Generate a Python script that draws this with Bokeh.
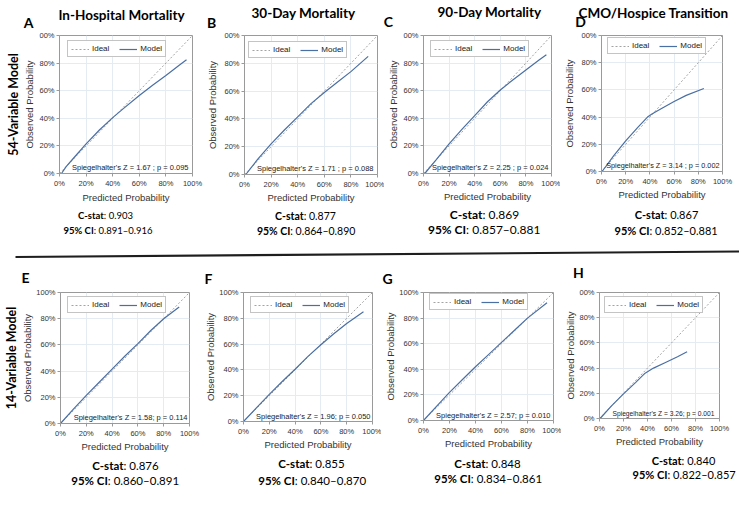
from bokeh.plotting import figure
from bokeh.layouts import column, row
from bokeh.models import (Label, Legend, LegendItem, FixedTicker, Range1d,
                          NumeralTickFormatter, Title)
from bokeh.embed import file_html
from bokeh.resources import INLINE

# ---------------- data ----------------
panel_letters = ["A", "B", "C", "D", "E", "F", "G", "H"]
outcome_titles = ["In-Hospital Mortality", "30-Day Mortality", "90-Day Mortality", "CMO/Hospice Transition"]
row_labels = ["54-Variable Model", "14-Variable Model"]
c_stats = ["0.903", "0.877", "0.869", "0.867", "0.876", "0.855", "0.848", "0.840"]
ci_ranges = ["0.891\u20130.916", "0.864\u20130.890", "0.857\u20130.881", "0.852\u20130.881",
             "0.860\u20130.891", "0.840\u20130.870", "0.834\u20130.861", "0.822\u20130.857"]
spiegel_texts = ["Spiegelhalter's Z = 1.67 ; p = 0.095", "Spiegelhalter's Z = 1.71 ; p = 0.088",
                 "Spiegelhalter's Z = 2.25 ; p = 0.024", "Spiegelhalter's Z = 3.14 ; p = 0.002",
                 "Spiegelhalter's Z = 1.58; p = 0.114", "Spiegelhalter's Z = 1.96; p = 0.050",
                 "Spiegelhalter's Z = 2.57; p = 0.010", "Spiegelhalter's Z = 3.26; p = 0.001"]
legend_labels = ["Ideal", "Model"]
tick_values = [0, 0.2, 0.4, 0.6, 0.8, 1]
clipped_top_label = "00%"
clipped_top = [True, True, True, True, False, False, False, True]
x_axis_label = "Predicted Probability"
y_axis_label = "Observed Probability"

ideal_x = [0, 1]
ideal_y = [0, 1]

model_x_A = [0.015, 0.05, 0.1, 0.2, 0.3, 0.4, 0.48, 0.6, 0.7, 0.8, 0.9, 0.955]
model_y_A = [0.0, 0.05, 0.105, 0.215, 0.315, 0.405, 0.47, 0.565, 0.64, 0.71, 0.785, 0.825]
model_x_B = [0.01, 0.1, 0.2, 0.3, 0.4, 0.5, 0.6, 0.7, 0.8, 0.93]
model_y_B = [0.0, 0.11, 0.22, 0.32, 0.415, 0.51, 0.59, 0.665, 0.74, 0.85]
model_x_C = [0.01, 0.1, 0.2, 0.3, 0.4, 0.5, 0.6, 0.7, 0.8, 0.9, 0.96]
model_y_C = [0.0, 0.1, 0.215, 0.32, 0.42, 0.52, 0.605, 0.68, 0.75, 0.82, 0.86]
model_x_D = [0.005, 0.1, 0.2, 0.3, 0.38, 0.42, 0.5, 0.6, 0.7, 0.846]
model_y_D = [0.0, 0.115, 0.225, 0.325, 0.4, 0.425, 0.465, 0.515, 0.56, 0.61]
model_x_E = [0.0, 0.1, 0.2, 0.3, 0.4, 0.5, 0.6, 0.7, 0.8, 0.92]
model_y_E = [0.0, 0.11, 0.215, 0.315, 0.415, 0.515, 0.61, 0.71, 0.8, 0.89]
model_x_F = [0.0, 0.1, 0.2, 0.3, 0.4, 0.5, 0.6, 0.7, 0.8, 0.93]
model_y_F = [0.0, 0.105, 0.21, 0.31, 0.405, 0.505, 0.595, 0.68, 0.76, 0.85]
model_x_G = [0.0, 0.1, 0.2, 0.3, 0.4, 0.5, 0.6, 0.7, 0.8, 0.95]
model_y_G = [0.0, 0.11, 0.22, 0.32, 0.42, 0.515, 0.61, 0.705, 0.8, 0.92]
model_x_H = [0.005, 0.1, 0.2, 0.3, 0.38, 0.45, 0.55, 0.65, 0.73]
model_y_H = [0.0, 0.1, 0.195, 0.285, 0.36, 0.4, 0.445, 0.49, 0.53]

curves = {"A": (model_x_A, model_y_A), "B": (model_x_B, model_y_B),
          "C": (model_x_C, model_y_C), "D": (model_x_D, model_y_D),
          "E": (model_x_E, model_y_E), "F": (model_x_F, model_y_F),
          "G": (model_x_G, model_y_G), "H": (model_x_H, model_y_H)}

# ---------------- layout (page pixel coordinates, origin top-left) ----------------
PAGE_W = 739
FIG_X = [[0, 203, 384, 560, 739], [0, 198, 379, 559, 739]]
HEADER = (0, 30)
ROW_Y = [(30, 206), (286, 453)]
MIDDLE = (206, 286)
FOOTER = (453, 507)
FRAMES = {"A": (59, 35, 192, 173), "B": (244, 34, 377, 173), "C": (423, 33, 551, 171),
          "D": (601, 33, 722, 169), "E": (58, 289, 187, 420), "F": (241, 292, 370, 421),
          "G": (421, 292, 551, 420), "H": (597, 292, 717, 418)}
TITLE_POS = {"A": (121, 14), "B": (303, 12.5), "C": (489, 11.5), "D": (653, 12)}
LETTER_POS = {"A": (28, 21.5), "B": (211, 21.5), "C": (388, 21), "D": (580, 21),
              "E": (25, 277), "F": (208, 277.5), "G": (387, 277.5), "H": (578, 272)}
ROWLAB_Y = [124, 370]
ROWLAB_FS = 12.5
YLAB_X = {"A": 28, "B": 210, "C": 390, "D": 565, "E": 26, "F": 208, "G": 387, "H": 565}
XLAB_Y = {"A": 198, "B": 197, "C": 194, "D": 190, "E": 443, "F": 445, "G": 443, "H": 437}
CSTAT_POS = {"A": (105, 215), "B": (305, 215), "C": (484, 213.5), "D": (666, 214),
             "E": (125, 465), "F": (311, 463), "G": (487, 463), "H": (683, 460)}
CI_POS = {"A": (107, 230), "B": (305, 230), "C": (483, 229), "D": (665, 230),
          "E": (124, 480), "F": (311, 480), "G": (487, 478), "H": (683, 474)}
CS_FS = {"A": 9.5, "B": 10.5, "C": 12, "D": 11, "E": 11.5, "F": 11.5, "G": 11.5, "H": 11}
SPIEGEL_POS = {"A": (188, 167), "B": (373, 167), "C": (548, 165), "D": (719, 163),
               "E": (185, 414), "F": (368, 416), "G": (548, 415), "H": (712, 413)}
SPIEGEL_FS = {"A": 7.5, "B": 7.5, "C": 7.5, "D": 7.3, "E": 7.5, "F": 7.5, "G": 7.5, "H": 6.7}
LEGEND_BOX = {"A": (67, 57), "B": (248, 57), "C": (430, 55), "D": (607, 52),
              "E": (65, 310), "F": (248, 313), "G": (427, 310), "H": (602, 313)}
SEPARATOR = (15, 256.5, 739, 251)

SANS = "Liberation Sans"
CAL = "Lato"
MODEL_COLOR = "#4a6fa3"
IDEAL_COLOR = "#a3a3a3"
TICK_FS = 7.5
AXLAB_FS = 9.5


def strip(x0, x1, y0, y1):
    w, h = x1 - x0, y1 - y0
    s = figure(width=w, height=h, output_backend="svg", toolbar_location=None,
               x_range=Range1d(0, w), y_range=Range1d(0, h),
               x_axis_type=None, y_axis_type=None, min_border=0)
    s.outline_line_color = None
    s.background_fill_color = "white"
    s.border_fill_color = "white"
    return s


def put(p, ox, oy_bottom, X, Y, text, font, size, bold=False, align="center",
        color="black", baseline="middle"):
    p.add_layout(Label(x=X - ox, y=oy_bottom - Y, x_units="screen", y_units="screen",
                       text=text, text_font=font, text_font_size=f"{size}px",
                       text_font_style="bold" if bold else "normal",
                       text_align=align, text_baseline=baseline, text_color=color))


def put_mixed(p, ox, oyb, X, Y, bold_part, rest, fs, bold_em, rest_em):
    split = X - (bold_em + rest_em) * fs / 2 + bold_em * fs
    put(p, ox, oyb, split, Y, bold_part, CAL, fs, bold=True, align="right")
    put(p, ox, oyb, split, Y, rest, CAL, fs, align="left")


def make_panel(i, k, col, r):
    fx0, fx1 = FIG_X[r][col], FIG_X[r][col + 1]
    fy0, fy1 = ROW_Y[r]
    fl, ft, fr, fb = FRAMES[k]
    p = figure(frame_width=fr - fl, frame_height=fb - ft, output_backend="svg",
               toolbar_location=None, x_range=Range1d(0, 1), y_range=Range1d(0, 1),
               min_border_left=fl - fx0, min_border_right=fx1 - fr,
               min_border_top=ft - fy0, min_border_bottom=fy1 - fb)
    p.outline_line_color = "#9a9a9a"
    p.background_fill_color = "white"
    for ax in (p.xaxis, p.yaxis):
        ax.ticker = FixedTicker(ticks=tick_values)
        ax.formatter = NumeralTickFormatter(format="0%")
        ax.major_label_text_font = SANS
        ax.major_label_text_font_size = f"{TICK_FS}px"
        ax.major_label_text_color = "#333333"
        ax.axis_line_color = "#9a9a9a"
        ax.major_tick_line_color = "#9a9a9a"
        ax.major_tick_in = 0
        ax.major_tick_out = 3
        ax.minor_tick_line_color = None
        ax.major_label_standoff = 2
        ax.axis_label_text_font = SANS
        ax.axis_label_text_font_size = f"{AXLAB_FS}px"
        ax.axis_label_text_font_style = "normal"
        ax.axis_label_text_color = "#333333"
    if clipped_top[i]:
        p.yaxis.major_label_overrides = {1: clipped_top_label}
    p.xaxis.axis_label = x_axis_label
    p.yaxis.axis_label = y_axis_label
    p.xaxis.axis_label_standoff = int(max(0, XLAB_Y[k] - fb - 24))
    base_y = 30 if clipped_top[i] else 34
    need_y = 38 if clipped_top[i] else 42
    s_y = max(0, fl - YLAB_X[k] - base_y)
    if col > 0:
        s_y = min(s_y, max(0, (fl - fx0) - need_y))
    p.yaxis.axis_label_standoff = int(s_y)
    p.xgrid.grid_line_color = "#e4ebf2"
    p.ygrid.grid_line_color = "#e4ebf2"

    if col == 0:
        fc = (ft + fb) / 2
        p.add_layout(Title(text=row_labels[r], align="center", offset=fc - ROWLAB_Y[r],
                           text_font=CAL, text_font_size=f"{ROWLAB_FS}px",
                           text_font_style="bold", text_color="black", standoff=2), "left")

    r_ideal = p.line(ideal_x, ideal_y, line_color=IDEAL_COLOR, line_dash="2 2", line_width=1)
    mx, my = curves[k]
    r_model = p.line(mx, my, line_color=MODEL_COLOR, line_width=1.2)

    lx, lb = LEGEND_BOX[k]
    lg = Legend(items=[LegendItem(label=legend_labels[0], renderers=[r_ideal]),
                       LegendItem(label=legend_labels[1], renderers=[r_model])],
                orientation="horizontal", location=(lx - fl, fb - lb),
                label_text_font=SANS, label_text_font_size="8px", label_text_color="#222222",
                glyph_width=18, glyph_height=8, label_standoff=3, spacing=10,
                padding=3, margin=0, label_height=8, label_width=10,
                border_line_color="#8a8a8a", border_line_width=1)
    p.add_layout(lg)

    X, Y = SPIEGEL_POS[k]
    put(p, fl, fb, X, Y, spiegel_texts[i], SANS, SPIEGEL_FS[k], align="right", color="#222222")
    return p


# header strip: outcome titles + top letters
header = strip(0, PAGE_W, *HEADER)
for c in range(4):
    k = panel_letters[c]
    X, Y = TITLE_POS[k]
    put(header, 0, HEADER[1], X, Y, outcome_titles[c], CAL, 13.5, bold=True)
    X, Y = LETTER_POS[k]
    put(header, 0, HEADER[1], X, Y, k, CAL, 14, bold=True)

top = [make_panel(i, panel_letters[i], i, 0) for i in range(4)]
bottom = [make_panel(i + 4, panel_letters[i + 4], i, 1) for i in range(4)]

# middle strip: top-row C-stats, separator, bottom letters
middle = strip(0, PAGE_W, *MIDDLE)
mb = MIDDLE[1]
for i in range(4):
    k = panel_letters[i]
    X, Y = CSTAT_POS[k]
    put_mixed(middle, 0, mb, X, Y, "C-stat", ": " + c_stats[i], CS_FS[k], 2.67, 3.02)
    X, Y = CI_POS[k]
    put_mixed(middle, 0, mb, X, Y, "95% CI", ": " + ci_ranges[i], CS_FS[k], 3.2, 6.1)
for i in range(4, 8):
    k = panel_letters[i]
    X, Y = LETTER_POS[k]
    put(middle, 0, mb, X, Y, k, CAL, 14, bold=True)
sx0, sy0, sx1, sy1 = SEPARATOR
middle.segment(x0=[sx0], y0=[mb - sy0], x1=[sx1], y1=[mb - sy1], line_color="#1e1e1e", line_width=2.2)

# footer strip: bottom-row C-stats
footer = strip(0, PAGE_W, *FOOTER)
fbm = FOOTER[1]
for i in range(4, 8):
    k = panel_letters[i]
    X, Y = CSTAT_POS[k]
    put_mixed(footer, 0, fbm, X, Y, "C-stat", ": " + c_stats[i], CS_FS[k], 2.67, 3.02)
    X, Y = CI_POS[k]
    put_mixed(footer, 0, fbm, X, Y, "95% CI", ": " + ci_ranges[i], CS_FS[k], 3.2, 6.1)

layout = column(header, row(*top), middle, row(*bottom), footer)

open("out.html", "w").write(file_html(layout, INLINE))
